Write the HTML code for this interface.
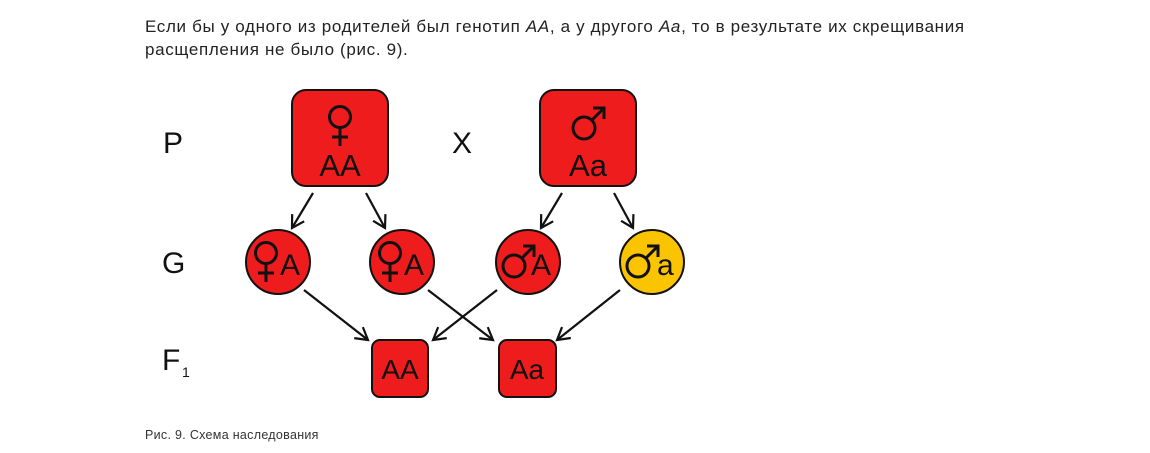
<!DOCTYPE html>
<html><head><meta charset="utf-8"><style>
body{margin:0;width:1150px;height:453px;background:#fff;overflow:hidden;font-family:"Liberation Sans",sans-serif;}
.t{position:absolute;left:145px;top:15px;font-size:17px;letter-spacing:0.66px;line-height:23px;color:#222;white-space:nowrap;}
.c{position:absolute;left:145px;top:428px;font-size:12.5px;letter-spacing:0.3px;color:#333;}
svg{position:absolute;left:0;top:0}
</style></head><body>
<div class="t">Если бы у одного из родителей был генотип <i>АА</i>, а у другого <i>Аа</i>, то в результате их скрещивания<br>расщепления не было (рис. 9).</div>
<svg width="1150" height="453" font-family="Liberation Sans, sans-serif">
<defs><marker id="a" markerWidth="16" markerHeight="16" refX="13" refY="8" orient="auto" markerUnits="userSpaceOnUse"><path d="M1,1 L13,8 L1,15" fill="none" stroke="#111" stroke-width="2.2"/></marker>
<g id="f"><circle cx="0" cy="0" r="10.5" fill="none" stroke="#111" stroke-width="3"/><line x1="0" y1="10" x2="0" y2="29" stroke="#111" stroke-width="3"/><line x1="-8" y1="20" x2="8" y2="20" stroke="#111" stroke-width="3"/></g>
<g id="m"><circle cx="0" cy="0" r="11" fill="none" stroke="#111" stroke-width="3"/><line x1="8" y1="-8" x2="19" y2="-19" stroke="#111" stroke-width="3"/><path d="M9,-20 L20,-20 L20,-9" fill="none" stroke="#111" stroke-width="3"/></g>
</defs>
<text x="163" y="153" font-size="30" fill="#111">P</text>
<text x="452" y="153" font-size="30" fill="#111">X</text>
<text x="162" y="273" font-size="30" fill="#111">G</text>
<text x="162" y="370" font-size="30" fill="#111">F</text>
<text x="182" y="377" font-size="14" fill="#111">1</text>
<rect x="292" y="90" width="96" height="96" rx="14" fill="#ee1c1c" stroke="#111" stroke-width="2"/>
<use href="#f" x="340" y="117"/>
<text x="340" y="176" font-size="31" text-anchor="middle" fill="#111">AA</text>
<rect x="540" y="90" width="96" height="96" rx="14" fill="#ee1c1c" stroke="#111" stroke-width="2"/>
<use href="#m" x="584" y="128"/>
<text x="588" y="176" font-size="31" text-anchor="middle" fill="#111">Aa</text>
<g stroke="#111" stroke-width="2.2" fill="none" marker-end="url(#a)">
<line x1="313" y1="193" x2="292" y2="228"/><line x1="366" y1="193" x2="385" y2="228"/>
<line x1="562" y1="193" x2="541" y2="228"/><line x1="614" y1="193" x2="633" y2="228"/>
<line x1="304" y1="290" x2="368" y2="340"/><line x1="428" y1="290" x2="493" y2="340"/>
<line x1="497" y1="290" x2="433" y2="340"/><line x1="620" y1="290" x2="557" y2="340"/>
</g>
<g stroke="#111" stroke-width="2">
<circle cx="278" cy="262" r="32" fill="#ee1c1c"/><circle cx="402" cy="262" r="32" fill="#ee1c1c"/>
<circle cx="528" cy="262" r="32" fill="#ee1c1c"/><circle cx="652" cy="262" r="32" fill="#fbc400"/>
</g>
<use href="#f" x="266" y="253"/><use href="#f" x="390" y="253"/>
<use href="#m" x="514" y="266"/><use href="#m" x="638" y="266"/>
<g font-size="30" fill="#111">
<text x="280" y="275">A</text><text x="404" y="275">A</text>
<text x="531" y="275">A</text><text x="657" y="275">a</text>
</g>
<rect x="372" y="340" width="56" height="57" rx="8" fill="#ee1c1c" stroke="#111" stroke-width="2"/>
<text x="400" y="379" font-size="28" text-anchor="middle" fill="#111">AA</text>
<rect x="499" y="340" width="57" height="57" rx="8" fill="#ee1c1c" stroke="#111" stroke-width="2"/>
<text x="527" y="379" font-size="28" text-anchor="middle" fill="#111">Aa</text>
</svg>
<div class="c">Рис. 9. Схема наследования</div>
</body></html>
